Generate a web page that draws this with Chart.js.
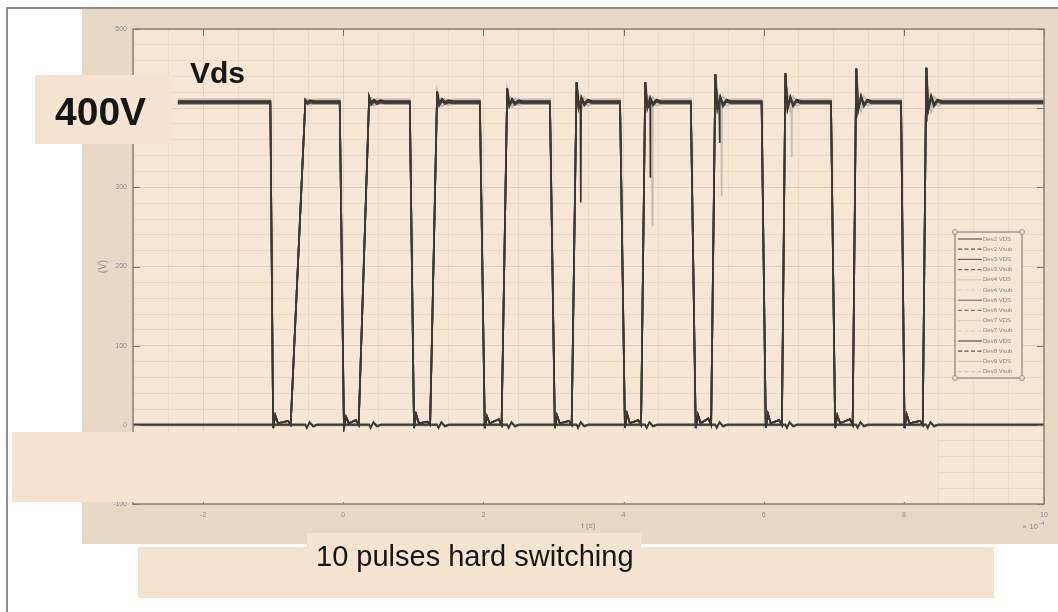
<!DOCTYPE html>
<html>
<head>
<meta charset="utf-8">
<script src="https://cdn.jsdelivr.net/npm/chart.js@4.4.1/dist/chart.umd.min.js"></script>
<style>
html,body{margin:0;padding:0;background:#fff;}
body{width:1058px;height:612px;position:relative;overflow:hidden;font-family:"Liberation Sans",Arial,sans-serif;}
#frame{position:absolute;left:6px;top:7px;width:1070px;height:620px;border-left:2px solid #8e8e8e;border-top:2px solid #8e8e8e;}
#panel{position:absolute;left:82px;top:9px;width:976px;height:535px;background:#e8d9c7;}
#c{position:absolute;left:0;top:0;}
.box{position:absolute;background:#f4e4d0;}
.txt{position:absolute;color:#161616;line-height:1;white-space:nowrap;}
</style>
</head>
<body>
<div id="frame"></div>
<div id="panel"></div>
<canvas id="c" width="1058" height="612"></canvas>
<div class="box" style="left:35px;top:75px;width:137px;height:69px;"></div>
<div class="txt" style="left:55px;top:92px;font-size:39px;font-weight:bold;">400V</div>
<div class="txt" style="left:190px;top:58px;font-size:30px;font-weight:bold;">Vds</div>
<div class="box" style="left:12px;top:432px;width:926px;height:70px;"></div>
<div class="box" style="left:307px;top:533px;width:334px;height:16px;"></div>
<div class="box" style="left:138px;top:547px;width:856px;height:51px;"></div>
<div class="txt" style="left:316px;top:542px;font-size:29px;">10 pulses hard switching</div>
<script>
//Data - time in units of 1e-4 s, voltage in V
var devices = ["Dev2","Dev3","Dev4","Dev6","Dev7","Dev8","Dev9"];
var vdsStartT = -2.36;
var fallStart = [-1.04,-0.05,0.95,1.95,2.95,3.95,4.96,5.97,6.96,7.96];
var fallEnd   = [-1.00,0.01,1.01,2.02,3.02,4.02,5.03,6.03,7.02,8.01];
var riseStart = [-0.75,0.22,1.24,2.26,3.26,4.25,5.25,6.26,7.27,8.27];
var riseEnd   = [-0.54,0.37,1.34,2.34,3.33,4.31,5.31,6.31,7.32,8.32];
var overshootV = [410,414,421,425,433,433,443,444,450,451];
var dipBumpV = [12,10,13,11,12,14,13,14,12,13];
var dipTailV = [5,6,4,7,5,6,8,6,7,5];
var vdsLevel = [408,406,411,407,410,409,405];
//ringing after each rise (offset from plateau)
var ringDt = [0.03,0.07,0.11,0.16];
var ringDark = [
	[-1,1,0,0],[-2,2,-1,1],[-3,3,-1,1],[-4,3,-2,1],[-7,5,-3,2],
	[-7,5,-3,2],[-8,6,-4,2],[-8,6,-4,2],[-9,7,-4,2],[-9,7,-4,2]
];
var ringLight = [
	[1,-1,0,0],[2,-2,1,0],[3,-3,1,-1],[4,-4,2,-1],[6,-7,3,-2],
	[6,-7,3,-2],[8,-8,4,-2],[8,-8,4,-2],[8,-9,4,-2],[8,-9,4,-2]
];
var spikeDev2 = [[3.39,281],[4.38,312],[5.37,356],[7.33,388],[8.33,383]];
var spikeDev4 = [[4.41,252],[5.40,289],[6.40,338]];
var vsubLevel = [0,1,-1,0,1,0,-1];
var vsubRippleDt = [0.02,0.06,0.11,0.17];
var vsubRippleV = [-4,3,-2,0];
//Styles
var vdsColor = ["#3b3631","#4a443e","#c6bdb2","#5c554d","#d0c7bc","#35302b","#c0b7ac"];
var vsubColor = ["#3f3a35","#4d4741","#cbc2b7","#5f5850","#d3cabf","#39342f","#c4bbb0"];
var legendColor = ["#5a5550","#5a5550","#6a655f","#6a655f","#d8d0c6","#d8d0c6","#7a746c","#7a746c","#d8d0c6","#d8d0c6","#55504a","#55504a","#d0c8be","#d0c8be"];

function buildVds(level, ring, spikes){
	var pts = [{x:vdsStartT,y:level}];
	for(var i=0;i<fallStart.length;i++){
		pts.push({x:fallStart[i],y:level});
		pts.push({x:fallEnd[i],y:-4});
		pts.push({x:fallEnd[i]+0.03,y:dipBumpV[i]});
		pts.push({x:fallEnd[i]+0.07,y:2});
		pts.push({x:riseStart[i]-0.04,y:dipTailV[i]});
		pts.push({x:riseStart[i],y:0});
		pts.push({x:riseEnd[i],y:overshootV[i]});
		for(var k=0;k<ringDt.length;k++){
			pts.push({x:riseEnd[i]+ringDt[k],y:level+ring[i][k]});
		}
		pts.push({x:riseEnd[i]+0.22,y:level});
	}
	(spikes||[]).forEach(function(s){
		pts.push({x:s[0]-0.006,y:level-6});
		pts.push({x:s[0],y:s[1]});
		pts.push({x:s[0]+0.006,y:level+2});
	});
	pts.push({x:10,y:level});
	pts.sort(function(a,b){return a.x-b.x;});
	return pts;
}
function buildVsub(level){
	var pts = [{x:-3,y:level}];
	for(var i=0;i<riseEnd.length;i++){
		pts.push({x:riseEnd[i],y:level});
		for(var k=0;k<vsubRippleDt.length;k++){
			pts.push({x:riseEnd[i]+vsubRippleDt[k],y:level+vsubRippleV[k]});
		}
	}
	pts.push({x:10,y:level});
	return pts;
}
var light = [false,false,true,false,true,false,true];
var datasets = [];
devices.forEach(function(d,i){
	var spikes = d=="Dev2" ? spikeDev2 : (d=="Dev4" ? spikeDev4 : null);
	datasets.push({
		label:d+" VDS",
		data:buildVds(vdsLevel[i], light[i] ? ringLight : ringDark, spikes),
		borderColor:vdsColor[i],
		borderWidth:1.7,
		order:light[i]?1:0
	});
	datasets.push({
		label:d+" Vsub",
		data:buildVsub(vsubLevel[i]),
		borderColor:vsubColor[i],
		borderWidth:1.3,
		order:light[i]?1:0
	});
});

//Plugins
var frameOpts = {bg:"#f6e7d4", axis:"#8a8176", tick:"#7a7268", label:"#8a8a8a"};
var decor = {
	id:"decor",
	beforeDraw:function(chart){
		var a = chart.chartArea, ctx = chart.ctx;
		ctx.save();
		ctx.fillStyle = frameOpts.bg;
		ctx.fillRect(a.left,a.top,a.right-a.left,a.bottom-a.top);
		ctx.restore();
	},
	afterDraw:function(chart){
		var a = chart.chartArea, ctx = chart.ctx, xs = chart.scales.x, ys = chart.scales.y;
		ctx.save();
		//inner tick marks
		ctx.strokeStyle = frameOpts.tick;
		ctx.lineWidth = 1;
		ctx.beginPath();
		xs.ticks.forEach(function(t){
			if(t.value%2!==0) return;
			var px = Math.round(xs.getPixelForValue(t.value))+0.5;
			ctx.moveTo(px,a.bottom); ctx.lineTo(px,a.bottom-7);
			ctx.moveTo(px,a.top); ctx.lineTo(px,a.top+7);
		});
		ys.ticks.forEach(function(t){
			if(t.value%100!==0) return;
			var py = Math.round(ys.getPixelForValue(t.value))+0.5;
			ctx.moveTo(a.left,py); ctx.lineTo(a.left+7,py);
			ctx.moveTo(a.right,py); ctx.lineTo(a.right-7,py);
		});
		ctx.stroke();
		//axis box
		ctx.strokeStyle = frameOpts.axis;
		ctx.lineWidth = 1.5;
		ctx.strokeRect(a.left,a.top,a.right-a.left,a.bottom-a.top);
		//axis texts
		ctx.fillStyle = frameOpts.label;
		ctx.font = "8px 'Liberation Sans'";
		ctx.textAlign = "center";
		ctx.textBaseline = "middle";
		ctx.fillText("t (s)",(a.left+a.right)/2,a.bottom+22);
		ctx.textAlign = "right";
		ctx.fillText("\u00d7 10",a.right-6,a.bottom+23);
		ctx.font = "6px 'Liberation Sans'";
		ctx.textAlign = "left";
		ctx.fillText("-4",a.right-5,a.bottom+19);
		ctx.translate(a.left-30,(a.top+a.bottom)/2);
		ctx.rotate(-Math.PI/2);
		ctx.font = "10px 'Liberation Sans'";
		ctx.textAlign = "center";
		ctx.fillText("(V)",0,0);
		ctx.restore();
		//legend
		var lx = 955, ly = 232, lw = 67, lh = 146, row = 10.2;
		ctx.save();
		ctx.fillStyle = "#f6e7d4";
		ctx.fillRect(lx,ly,lw,lh);
		ctx.strokeStyle = "#9d958b";
		ctx.lineWidth = 1.5;
		ctx.strokeRect(lx,ly,lw,lh);
		ctx.font = "6px 'Liberation Sans'";
		ctx.textBaseline = "middle";
		ctx.textAlign = "left";
		chart.data.datasets.forEach(function(ds,i){
			var y = ly+7+i*row;
			ctx.strokeStyle = legendColor[i];
			ctx.lineWidth = 1.2;
			ctx.setLineDash(i%2 ? [4,2.5] : []);
			ctx.beginPath();
			ctx.moveTo(lx+3,y); ctx.lineTo(lx+27,y);
			ctx.stroke();
			ctx.setLineDash([]);
			ctx.fillStyle = "#8a847d";
			ctx.fillText(ds.label,lx+28,y);
		});
		ctx.strokeStyle = "#9d958b";
		ctx.fillStyle = "#e9dccb";
		ctx.lineWidth = 1;
		[[lx,ly],[lx+lw,ly],[lx,ly+lh],[lx+lw,ly+lh]].forEach(function(p){
			ctx.beginPath(); ctx.arc(p[0],p[1],2.5,0,Math.PI*2); ctx.fill(); ctx.stroke();
		});
		ctx.restore();
	}
};

var chart = new Chart(document.getElementById("c"),{
	type:"line",
	data:{datasets:datasets},
	options:{
		responsive:false,
		animation:false,
		devicePixelRatio:1,
		layout:{padding:{left:0,right:14,top:29,bottom:0}},
		elements:{point:{radius:0},line:{tension:0}},
		plugins:{legend:{display:false},tooltip:{enabled:false}},
		scales:{
			x:{
				type:"linear",min:-3,max:10,
				afterFit:function(s){s.height = 108;},
				border:{display:false},
				grid:{
					drawTicks:false,
					color:function(c){return c.tick && c.tick.value%2===0 ? "rgba(190,170,150,0.35)" : "rgba(200,182,165,0.25)";}
				},
				ticks:{
					stepSize:0.5,autoSkip:false,maxRotation:0,padding:7,
					color:"#8a8a8a",font:{family:"Liberation Sans",size:7},
					callback:function(v){return v%2===0 ? String(v) : "";}
				}
			},
			y:{
				min:-100,max:500,
				afterFit:function(s){s.width = 133;},
				border:{display:false},
				grid:{
					drawTicks:false,
					color:function(c){return c.tick && c.tick.value%100===0 ? "rgba(190,170,150,0.4)" : "rgba(200,182,165,0.28)";}
				},
				ticks:{
					stepSize:20,autoSkip:false,padding:6,
					color:"#8a8a8a",font:{family:"Liberation Sans",size:7},
					callback:function(v){return v%100===0 ? String(v) : "";}
				}
			}
		}
	},
	plugins:[decor]
});
</script>
</body>
</html>
